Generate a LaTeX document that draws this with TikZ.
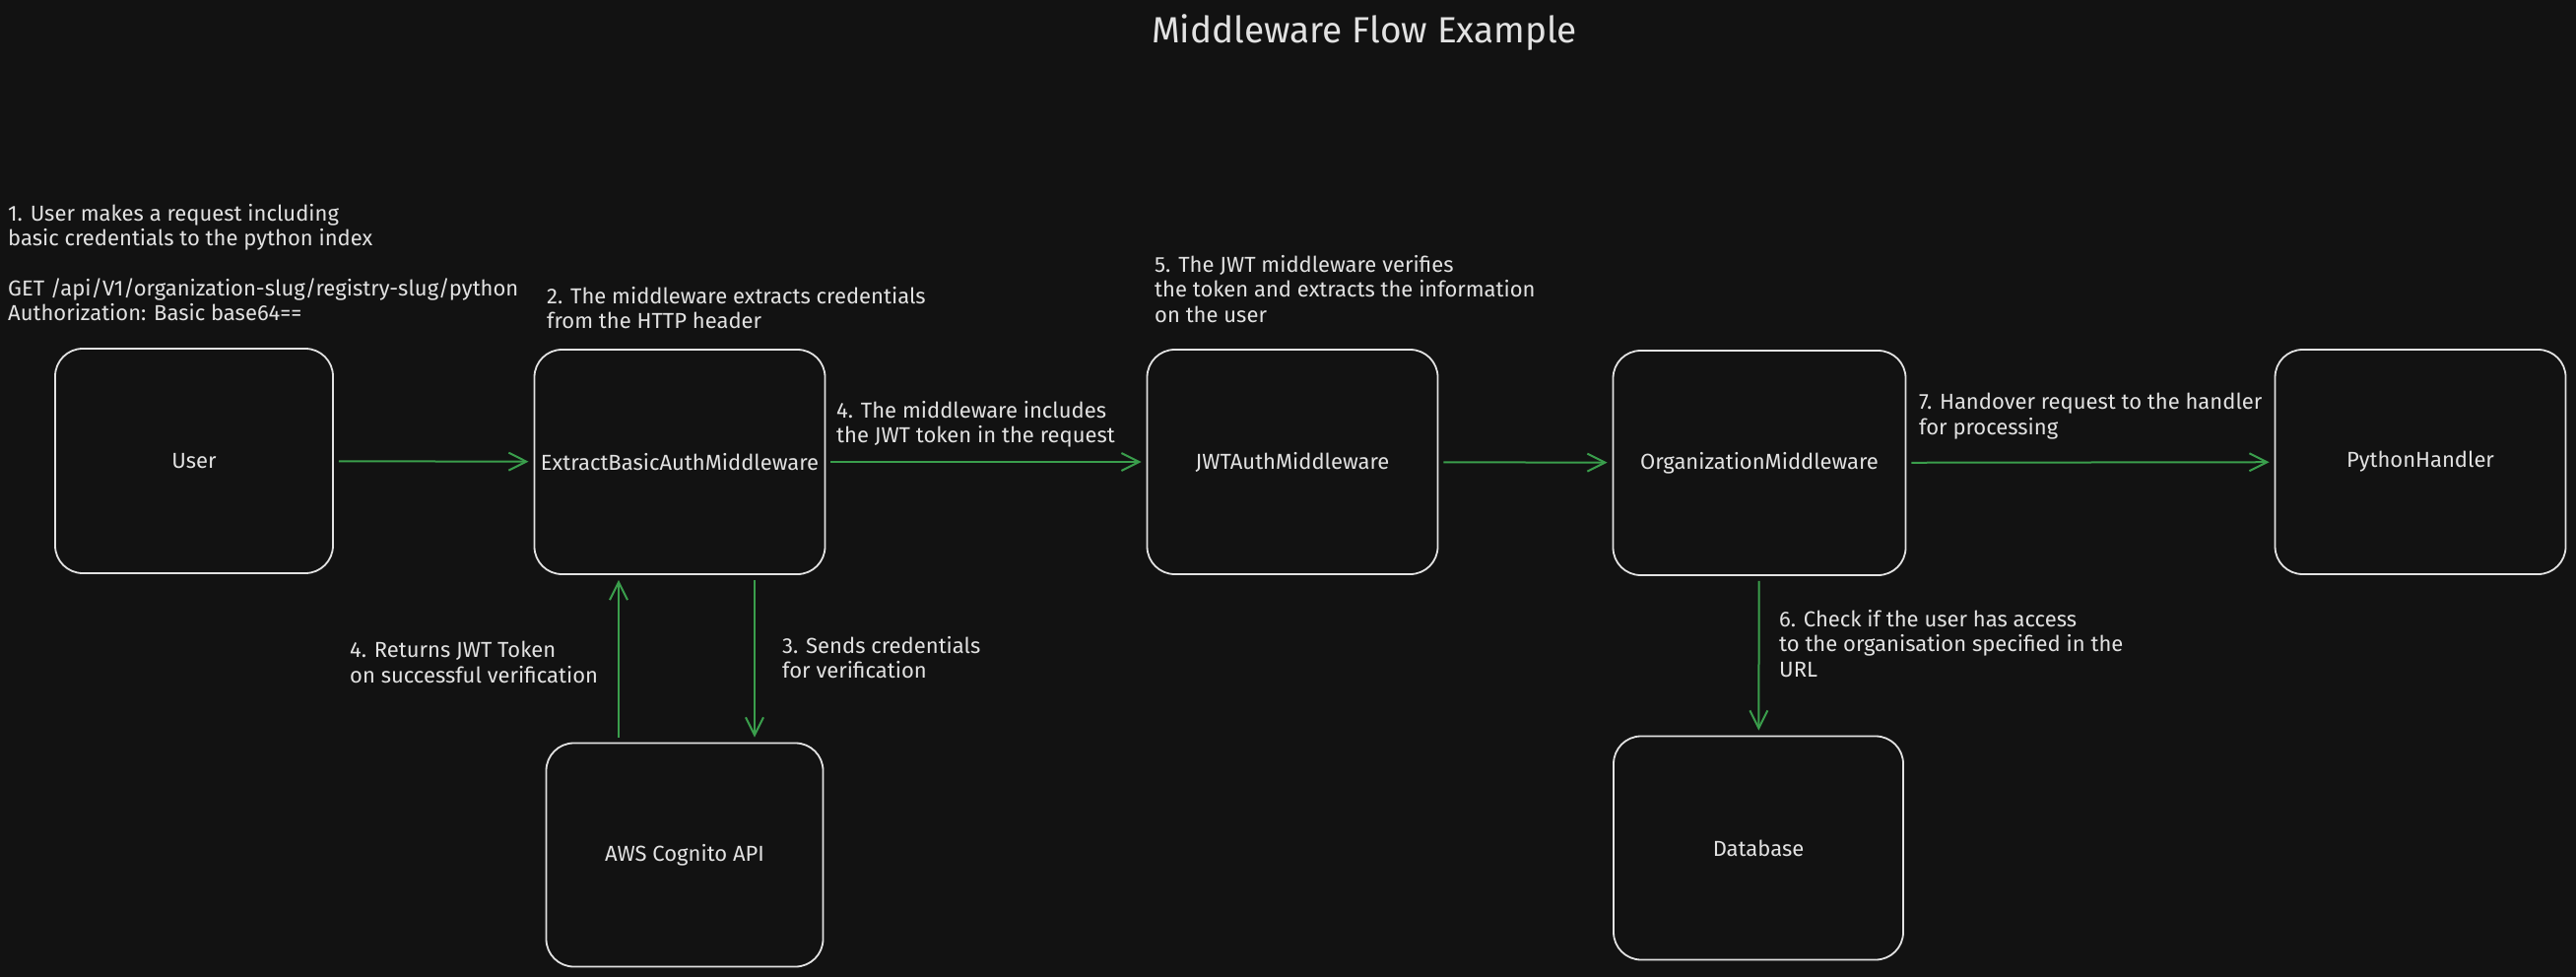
\documentclass[tikz,border=0pt]{standalone}
\usepackage{fontspec}
\setmainfont{Fira Sans}
\usetikzlibrary{arrows.meta}
\definecolor{bgc}{HTML}{121212}
\definecolor{fgc}{HTML}{E2E2E2}
\definecolor{grn}{HTML}{3A9E4C}
\newcommand\notefnt{\fontsize{22}{25.5}\selectfont}
\newcommand\lblfnt{\fontsize{22}{25}\selectfont}
\newcommand\titlefnt{\fontsize{37}{42}\selectfont}
\begin{document}
\begin{tikzpicture}[x=1pt,y=-1pt,
  box/.style={draw=fgc, line width=1.8pt, rounded corners=28pt, minimum width=290pt, minimum height=228pt, text=fgc, font=\lblfnt, inner sep=2pt},
  flow/.style={draw=grn, line width=2pt, shorten <=5pt, shorten >=5pt, -{Straight Barb[length=18pt,width=18pt,line width=2pt]}},
  note/.style={anchor=north west, align=left, inner sep=0pt, text=fgc, font=\notefnt}]
\fill[bgc] (0,0) rectangle (2615,992);
\useasboundingbox (0,0) rectangle (2615,992);

\node[text=fgc, font=\titlefnt] (title) at (1385,33) {Middleware Flow Example};

\node[box, minimum width=282pt] (user) at (197,468) {User};
\node[box, minimum width=295pt] (ext) at (690,469) {ExtractBasicAuthMiddleware};
\node[box, minimum width=295pt] (jwt) at (1312,469) {JWTAuthMiddleware};
\node[box, minimum width=297pt] (org) at (1786,470) {OrganizationMiddleware};
\node[box, minimum width=295pt] (py) at (2457,469) {PythonHandler};
\node[box, minimum width=281pt, minimum height=227pt] (cog) at (695,868) {AWS Cognito API};
\node[box, minimum width=294pt, minimum height=227pt] (db) at (1785,861) {Database};

\draw[flow] (user) -- (ext);
\draw[flow] (ext) -- (jwt);
\draw[flow] (jwt) -- (org);
\draw[flow] (org) -- (py);
\draw[flow] ([xshift=76pt]ext.south) -- ([xshift=76pt]ext.south |- cog.north);
\draw[flow] ([xshift=-67pt]cog.north) -- ([xshift=-67pt]cog.north |- ext.south);
\draw[flow] (org) -- (db);

\node[note] (t1) at (8,207) {1. User makes a request including\\basic credentials to the python index\\[25pt]GET /api/V1/organization-slug/registry-slug/python\\Authorization: Basic base64==};
\node[note] (t2) at (555,291) {2. The middleware extracts credentials\\from the HTTP header};
\node[note] (t4a) at (849,407) {4. The middleware includes\\the JWT token in the request};
\node[note] (t5) at (1172,259) {5. The JWT middleware verifies\\the token and extracts the information\\on the user};
\node[note] (t7) at (1948,399) {7. Handover request to the handler\\for processing};
\node[note] (t4b) at (355,651) {4. Returns JWT Token\\on successful verification};
\node[note] (t3) at (794,646) {3. Sends credentials\\for verification};
\node[note] (t6) at (1806,619) {6. Check if the user has access\\to the organisation specified in the\\URL};
\end{tikzpicture}
\end{document}
